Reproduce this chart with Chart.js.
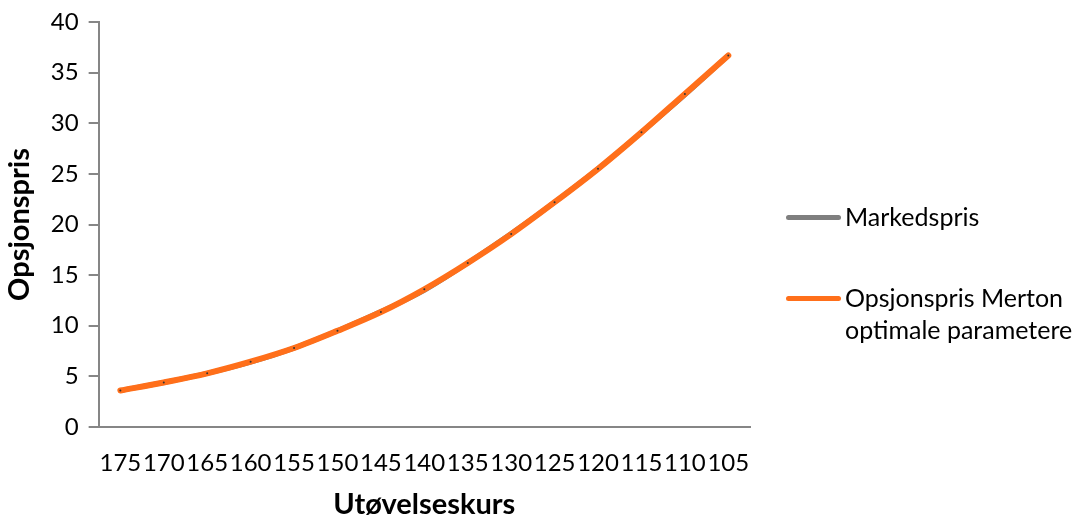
<!DOCTYPE html>
<html>
<head>
<meta charset="utf-8">
<script src="https://cdn.jsdelivr.net/npm/chart.js@4.4.1/dist/chart.umd.min.js"></script>
<style>
  body { margin: 0; background: #fff; }
  #wrap { position: relative; width: 1081px; height: 521px; }
  .leg { position: absolute; font-family: Lato, "Open Sans", sans-serif; font-size: 25px; color: #000; line-height: 32px; }
  .swatch { position: absolute; height: 5px; border-radius: 3px; }
</style>
</head>
<body>
<div id="wrap">
  <canvas id="chart" width="1081" height="521"></canvas>
  <div class="swatch" style="left:786px; top:215px; width:55px; background:#7f7f7f;"></div>
  <div class="leg" style="left:845px; top:200px;">Markedspris</div>
  <div class="swatch" style="left:786px; top:296px; width:55px; background:#ff6f1a;"></div>
  <div class="leg" style="left:845px; top:281px;">Opsjonspris Merton<br>optimale parametere</div>
</div>
<script>
const strikes = ['175', '170', '165', '160', '155', '150', '145', '140', '135', '130', '125', '120', '115', '110', '105'];
const marketPrice = [3.6, 4.4, 5.3, 6.4, 7.8, 9.5, 11.4, 13.5, 16.2, 19.1, 22.2, 25.5, 29.1, 32.8, 36.7];
const mertonPrice = [3.6, 4.4, 5.3, 6.45, 7.8, 9.5, 11.35, 13.6, 16.2, 19.05, 22.2, 25.5, 29.1, 32.9, 36.7];
const yTicks = [0, 5, 10, 15, 20, 25, 30, 35, 40];

const FONT = 'Lato, "Open Sans", sans-serif';
const axisColor = '#868686';

new Chart(document.getElementById('chart').getContext('2d'), {
    type: 'line',
    data: {
        labels: strikes,
        datasets: [
            { label: 'Markedspris', data: marketPrice, borderColor: '#7f7f7f', borderWidth: 5,
              pointRadius: 0, tension: 0.4, cubicInterpolationMode: 'monotone', order: 1 },
            { label: 'Opsjonspris Merton optimale parametere', data: mertonPrice, borderColor: '#ff6f1a', borderWidth: 6,
              borderCapStyle: 'round', pointRadius: 1, pointBackgroundColor: '#333', pointBorderWidth: 0,
              tension: 0.4, cubicInterpolationMode: 'monotone', order: 0 }
        ]
    },
    options: {
        responsive: false,
        animation: false,
        layout: { padding: { left: 2, right: 331, top: 0, bottom: 0 } },
        plugins: { legend: { display: false }, tooltip: { enabled: false } },
        scales: {
            x: {
                offset: true,
                afterFit: (s) => { s.height = 94; },
                grid: { display: false, drawTicks: false },
                border: { display: true, color: axisColor, width: 2 },
                ticks: { color: '#000', font: { family: FONT, size: 24, lineHeight: 1 }, autoSkip: false, maxRotation: 0, padding: 24 },
                title: { display: true, text: 'Utøvelseskurs', color: '#000',
                         font: { family: FONT, size: 29, weight: 'bold', lineHeight: 1 }, padding: { top: 0, bottom: 2 } }
            },
            y: {
                min: 0, max: 40,
                afterBuildTicks: (s) => { s.ticks = yTicks.map(v => ({ value: v })); },
                grid: { drawOnChartArea: false, drawTicks: true, tickLength: 10, color: axisColor, lineWidth: 2 },
                border: { display: true, color: axisColor, width: 2 },
                ticks: { color: '#000', font: { family: FONT, size: 24, lineHeight: 1 }, padding: 10 },
                title: { display: true, text: 'Opsjonspris', color: '#000',
                         font: { family: FONT, size: 29, weight: 'bold' }, padding: { top: 0, bottom: 4 } }
            }
        }
    }
});
</script>
</body>
</html>
